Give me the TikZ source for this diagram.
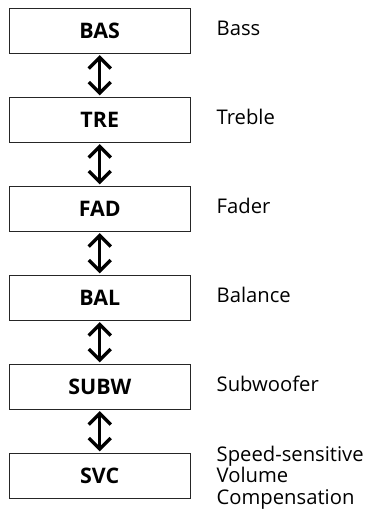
\documentclass[tikz,border=0pt]{standalone}
\usepackage{fontspec}
\setmainfont{Open Sans}
\usetikzlibrary{calc}
\begin{document}
\begin{tikzpicture}[x=1bp,y=-1bp,
  box/.style={draw=black!85,line width=0.9bp,minimum width=181bp,minimum height=45bp,inner sep=0pt,
    font=\fontsize{21.5}{24}\selectfont\bfseries},
  lbl/.style={anchor=west,align=left,inner sep=0pt,font=\fontsize{20.3}{21.4}\selectfont},
  arrline/.style={line width=3.4bp,line join=miter,line cap=butt}]
\useasboundingbox (0,0) rectangle (366,510);
\node[box] (b1) at (99.75,30.8) {BAS};
\node[box] (b2) at (99.75,119.8) {TRE};
\node[box] (b3) at (99.75,208.8) {FAD};
\node[box] (b4) at (99.75,297.8) {BAL};
\node[box] (b5) at (99.75,386.8) {SUBW};
\node[box] (b6) at (99.75,475.8) {SVC};
\node[lbl] (l1) at (216.5,28) {Bass};
\node[lbl] (l2) at (216.5,117) {Treble};
\node[lbl] (l3) at (216.5,206) {Fader};
\node[lbl] (l4) at (216.5,295) {Balance};
\node[lbl] (l5) at (216.5,384) {Subwoofer};
\node[lbl] (l6) at (216.5,477.5) {Speed-sensitive\\Volume\\Compensation};
\foreach \a/\b in {b1/b2,b2/b3,b3/b4,b4/b5,b5/b6}{
  \coordinate (t) at ($(\a.south)+(0,3.8)$);
  \coordinate (u) at ($(\b.north)+(0,-3.8)$);
  \draw[arrline] (t) -- (u);
  \draw[arrline] ($(t)+(-11,11)$) -- (t) -- ($(t)+(11,11)$);
  \draw[arrline] ($(u)+(-11,-11)$) -- (u) -- ($(u)+(11,-11)$);
}
\end{tikzpicture}
\end{document}
